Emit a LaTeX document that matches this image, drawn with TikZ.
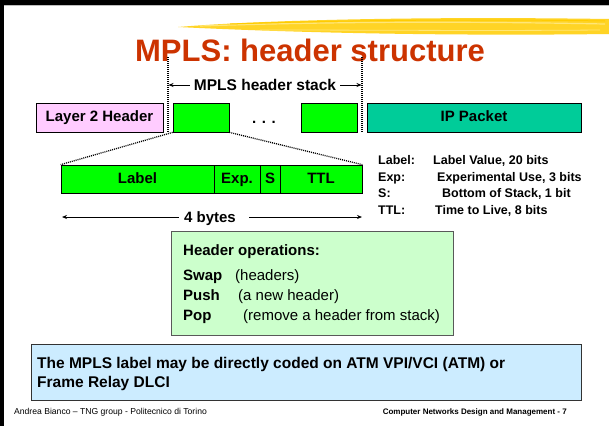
\documentclass[tikz,border=0pt]{standalone}
\usepackage{fontspec}
\setmainfont{Liberation Sans}
\usetikzlibrary{arrows.meta}
\definecolor{titlered}{RGB}{204,51,0}
\definecolor{pinkbox}{RGB}{255,204,255}
\definecolor{greenbox}{RGB}{0,255,0}
\definecolor{ipteal}{RGB}{0,204,153}
\definecolor{opsgreen}{RGB}{204,255,204}
\definecolor{noteblue}{RGB}{204,236,255}
\definecolor{brush}{RGB}{255,204,0}
\definecolor{brushlight}{RGB}{255,230,120}
\tikzset{
  fbox/.style={draw=black, line width=0.7pt, inner sep=0pt, text height=11pt, text depth=3pt, font=\bfseries\fontsize{15}{18}\selectfont},
  dotline/.style={line width=1.3pt, dash pattern=on 1pt off 1pt},
  arr/.style={line width=0.8pt, -{Stealth[length=5pt,width=4pt]}},
  txt/.style={inner sep=0pt, anchor=base west},
  bigtxt/.style={txt, font=\fontsize{15}{18}\selectfont},
  legtxt/.style={txt, font=\bfseries\fontsize{12.5}{15}\selectfont},
}
\begin{document}
\begin{tikzpicture}[x=1pt,y=-1pt]
\useasboundingbox (0,0) rectangle (609,426);
\fill[white] (0,0) rectangle (609,426);
% slide frame
\fill[black] (0,0) rectangle (609,5);
\fill[black] (0,0) rectangle (4,426);
\draw[gray!50, line width=0.6pt] (4,5.6) -- (609,5.6);
% brush stroke
\fill[brush!85] (178,27) .. controls (250,21) and (400,16) .. (609,19) -- (609,34) .. controls (450,36) and (300,33) .. (178,27) -- cycle;
\draw[brushlight, line width=1.2pt] (200,26) .. controls (320,22) and (450,21) .. (605,24);
\draw[brushlight, line width=0.8pt] (260,30) .. controls (380,30) and (480,31) .. (600,30);
\draw[brush, line width=1pt] (230,24) .. controls (350,20) and (480,19) .. (605,21);
% title
\node[txt, anchor=base, text=titlered, font=\bfseries\fontsize{31}{36}\selectfont] (title) at (310,61) {MPLS: header structure};
% stack markers
\coordinate (dl1) at (168,57);
\coordinate (dl2) at (168,133);
\coordinate (dr1) at (362,57);
\coordinate (dr2) at (362,133);
\draw[dotline] (dl1) -- (dl2);
\draw[dotline] (dr1) -- (dr2);
\node[txt, anchor=base, font=\bfseries\fontsize{15.5}{18}\selectfont] (stack) at (265,90.5) {MPLS header stack};
\coordinate (sl) at (168.5,85);
\coordinate (sr) at (361.5,85);
\draw[arr] ([xshift=-4pt]stack.west |- sl) -- (sl);
\draw[arr] ([xshift=4pt]stack.east |- sr) -- (sr);
% packet row
\node[fbox, fill=pinkbox, minimum width=127pt, minimum height=29pt] (l2) at (99.5,117.5) {Layer 2 Header};
\node[fbox, fill=greenbox, minimum width=56pt, minimum height=29pt] (g1) at (201,117.5) {};
\node[txt, anchor=base, font=\bfseries\fontsize{15}{18}\selectfont] (dots) at (264,123) {. . .};
\node[fbox, fill=greenbox, minimum width=56pt, minimum height=29pt] (g2) at (329,117.5) {};
\node[fbox, fill=ipteal, minimum width=214pt, minimum height=29pt] (ip) at (474,117.5) {IP Packet};
% header fields
\node[fbox, fill=greenbox, minimum width=153pt, minimum height=28pt] (flabel) at (137.5,179) {Label};
\node[fbox, fill=greenbox, minimum width=46pt, minimum height=28pt] (fexp) at (237,179) {Exp.};
\node[fbox, fill=greenbox, minimum width=20pt, minimum height=28pt] (fs) at (270,179) {S};
\node[fbox, fill=greenbox, minimum width=82pt, minimum height=28pt] (fttl) at (321,179) {TTL};
\draw[dotline] (g1.south west) -- (flabel.north west);
\draw[dotline] (g1.south east) -- (fttl.north east);
% 4 bytes
\node[txt, anchor=base, font=\bfseries\fontsize{15}{18}\selectfont] (bytes) at (210,222) {4 bytes};
\coordinate (bL) at (62,217);
\coordinate (bR) at (362,217);
\draw[arr] ([xshift=-5pt]bytes.west |- bL) -- (bL);
\draw[arr] ([xshift=13pt]bytes.east |- bR) -- (bR);
% legend
\node[legtxt] (k1) at (378,164.5) {Label:};
\node[legtxt] (k2) at (378,181.5) {Exp:};
\node[legtxt] (k3) at (378,197.5) {S:};
\node[legtxt] (k4) at (378,214.5) {TTL:};
\node[legtxt] (v1) at (433,164.5) {Label Value, 20 bits};
\node[legtxt] (v2) at (437,181.5) {Experimental Use, 3 bits};
\node[legtxt] (v3) at (442,197.5) {Bottom of Stack, 1 bit};
\node[legtxt] (v4) at (435,214.5) {Time to Live, 8 bits};
% header operations box
\node[draw=gray!70!black, line width=0.8pt, fill=opsgreen, minimum width=282pt, minimum height=104pt, inner sep=0pt] (ops) at (312,283) {};
\node[bigtxt, font=\bfseries\fontsize{15}{18}\selectfont] (oph) at (183,255) {Header operations:};
\node[bigtxt, font=\bfseries\fontsize{15}{18}\selectfont] (op1) at (183,280) {Swap};
\node[bigtxt] (op1t) at (235,280) {(headers)};
\node[bigtxt, font=\bfseries\fontsize{15}{18}\selectfont] (op2) at (183,300) {Push};
\node[bigtxt] (op2t) at (238,300) {(a new header)};
\node[bigtxt, font=\bfseries\fontsize{15}{18}\selectfont] (op3) at (183,320) {Pop};
\node[bigtxt] (op3t) at (243,320) {(remove a header from stack)};
% note box
\node[draw=black!80, line width=0.8pt, fill=noteblue, minimum width=550pt, minimum height=56pt, inner sep=0pt] (note) at (306,372) {};
\node[txt, font=\bfseries\fontsize{15.5}{18}\selectfont] (n1) at (37,368) {The MPLS label may be directly coded on ATM VPI/VCI (ATM) or};
\node[txt, font=\bfseries\fontsize{15.5}{18}\selectfont] (n2) at (37,387) {Frame Relay DLCI};
% footer
\node[txt, font=\fontsize{8.6}{10}\selectfont] (fl) at (14,414) {Andrea Bianco – TNG group - Politecnico di Torino};
\node[txt, anchor=base east, font=\bfseries\fontsize{8}{10}\selectfont] (fr) at (567,414) {Computer Networks Design and Management - 7};
\end{tikzpicture}
\end{document}
